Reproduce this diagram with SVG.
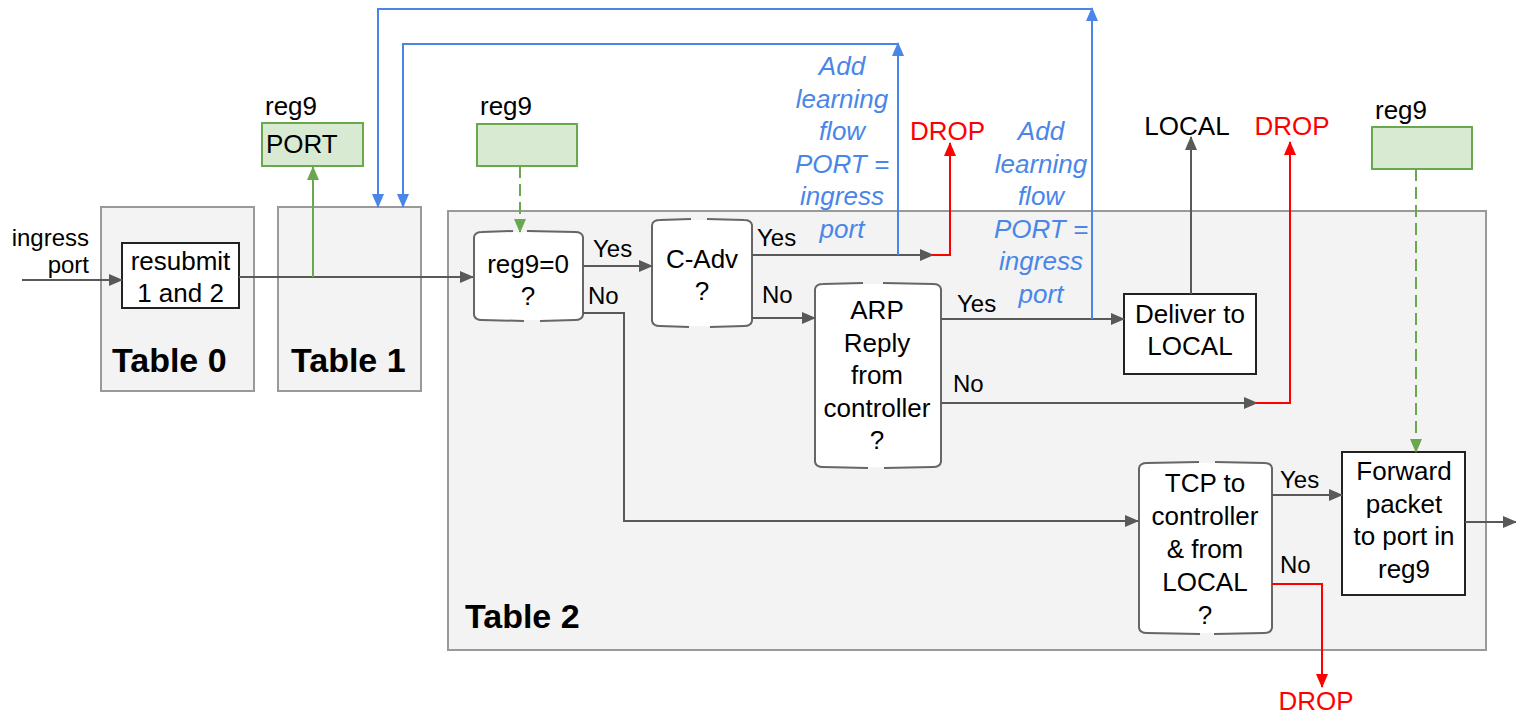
<svg xmlns="http://www.w3.org/2000/svg" width="1516" height="714" viewBox="0 0 1516 714">
<defs>
<style>
text{font-family:"Liberation Sans",Arial,sans-serif;fill:#000}
.t{font-size:26px}
.c{text-anchor:middle}
.lbl{font-size:24px}
.tbl{font-size:34px;font-weight:bold}
.blue{fill:#4a86e8;font-style:italic;font-size:26px;text-anchor:middle}
.red{fill:#ff0000;font-size:26px}
.table{fill:#f3f3f3;stroke:#999;stroke-width:2}
.box{fill:#fff;stroke:#222;stroke-width:2}
.reg{fill:#d9ead3;stroke:#6aa84f;stroke-width:2}
.dec{fill:#fff;stroke:none}
.decs{fill:none;stroke:#666;stroke-width:2}
.g{fill:none;stroke:#595959;stroke-width:2}
.gr{fill:none;stroke:#6aa84f;stroke-width:2}
.dash{stroke-dasharray:12 6}
.b{fill:none;stroke:#4a86e8;stroke-width:2}
.r{fill:none;stroke:#ff0000;stroke-width:2}
</style>
<marker id="ag" markerWidth="14" markerHeight="12" refX="13" refY="6" orient="auto" markerUnits="userSpaceOnUse"><path d="M0,0 L14,6 L0,12 Z" fill="#595959"/></marker>
<marker id="agr" markerWidth="14" markerHeight="12" refX="13" refY="6" orient="auto" markerUnits="userSpaceOnUse"><path d="M0,0 L14,6 L0,12 Z" fill="#6aa84f"/></marker>
<marker id="ab" markerWidth="14" markerHeight="12" refX="13" refY="6" orient="auto" markerUnits="userSpaceOnUse"><path d="M0,0 L14,6 L0,12 Z" fill="#4a86e8"/></marker>
<marker id="ar" markerWidth="14" markerHeight="12" refX="13" refY="6" orient="auto" markerUnits="userSpaceOnUse"><path d="M0,0 L14,6 L0,12 Z" fill="#ff0000"/></marker>
</defs>

<g id="table0"><rect class="table" x="101" y="207" width="153" height="184"/><text class="tbl" x="112" y="372">Table 0</text></g>
<g id="table1"><rect class="table" x="278" y="207" width="143" height="184"/><text class="tbl" x="291" y="372">Table 1</text></g>
<g id="table2"><rect class="table" x="448" y="211" width="1038" height="439"/><text class="tbl" x="465" y="628">Table 2</text></g>

<g id="ingress-label"><text class="lbl" x="89" y="246" text-anchor="end">ingress</text><text class="lbl" x="89" y="273" text-anchor="end">port</text></g>

<g id="resubmit"><rect class="box" x="122" y="243" width="117" height="65"/><text class="t c" x="180.5" y="270">resubmit</text><text class="t c" x="180.5" y="302">1 and 2</text></g>

<g id="reg9-port"><text class="t" x="265" y="115">reg9</text><rect class="reg" x="262" y="123" width="101" height="43"/><text class="t" x="266" y="153">PORT</text></g>
<g id="reg9-mid"><text class="t" x="480" y="115">reg9</text><rect class="reg" x="477" y="124" width="100" height="42"/></g>
<g id="reg9-right"><text class="t" x="1375" y="119">reg9</text><rect class="reg" x="1372" y="127" width="100" height="42"/></g>

<g id="dec-reg9">
<path class="dec" d="M474,237 Q475,232 482,232 L575,232 Q582,232 583,237 L583,315 Q582,320 575,320 L482,320 Q475,320 474,315 Z"/>
<path class="decs" d="M474,237 Q475,232 482,232 L513,231 M527,231 L575,232 Q582,232 583,237 L583,315 Q582,320 575,320 L540,321 M524,321 L482,320 Q475,320 474,315 L474,237"/>
<text class="t c" x="528" y="273">reg9=0</text><text class="t c" x="528" y="305">?</text>
</g>
<g id="dec-cadv">
<path class="dec" d="M652,225 Q653,220 660,220 L744,220 Q751,220 752,225 L752,321 Q751,326 744,326 L660,326 Q653,326 652,321 Z"/>
<path class="decs" d="M652,225 Q653,220 660,220 L691,219 M707,219 L744,220 Q751,220 752,225 L752,321 Q751,326 744,326 L710,327 M689,327 L660,326 Q653,326 652,321 L652,225"/>
<text class="t c" x="702" y="268">C-Adv</text><text class="t c" x="702" y="300">?</text>
</g>
<g id="dec-arp">
<path class="dec" d="M815,289 Q816,284 823,284 L933,284 Q940,284 941,289 L941,462 Q940,467 933,467 L823,467 Q816,467 815,462 Z"/>
<path class="decs" d="M815,289 Q816,284 823,284 L863,283 M883,283 L933,284 Q940,284 941,289 L941,462 Q940,467 933,467 L884,468 M868,468 L823,467 Q816,467 815,462 L815,289"/>
<text class="t c" x="877" y="319">ARP</text><text class="t c" x="877" y="351.5">Reply</text><text class="t c" x="877" y="384">from</text><text class="t c" x="877" y="416.5">controller</text><text class="t c" x="877" y="449">?</text>
</g>
<g id="dec-tcp">
<path class="dec" d="M1139,468 Q1140,463 1147,463 L1264,463 Q1271,463 1272,468 L1272,628 Q1271,633 1264,633 L1147,633 Q1140,633 1139,628 Z"/>
<path class="decs" d="M1139,468 Q1140,463 1147,463 L1199,462 M1215,462 L1264,463 Q1271,463 1272,468 L1272,628 Q1271,633 1264,633 L1214,634 M1200,634 L1147,633 Q1140,633 1139,628 L1139,468"/>
<text class="t c" x="1205" y="492">TCP to</text><text class="t c" x="1205" y="525">controller</text><text class="t c" x="1205" y="558">&amp; from</text><text class="t c" x="1205" y="591">LOCAL</text><text class="t c" x="1205" y="624">?</text>
</g>

<g id="deliver"><rect class="box" x="1124" y="294" width="132" height="80"/><text class="t c" x="1190" y="323">Deliver to</text><text class="t c" x="1190" y="355">LOCAL</text></g>
<g id="forward"><rect class="box" x="1342" y="452" width="123" height="143"/><text class="t c" x="1404" y="480">Forward</text><text class="t c" x="1404" y="512.5">packet</text><text class="t c" x="1404" y="545">to port in</text><text class="t c" x="1404" y="577.5">reg9</text></g>

<g id="blue-text-1"><text class="blue" x="842" y="75">Add</text><text class="blue" x="842" y="107.5">learning</text><text class="blue" x="842" y="140">flow</text><text class="blue" x="842" y="172.5">PORT =</text><text class="blue" x="842" y="205">ingress</text><text class="blue" x="842" y="237.5">port</text></g>
<g id="blue-text-2"><text class="blue" x="1041" y="140">Add</text><text class="blue" x="1041" y="172.5">learning</text><text class="blue" x="1041" y="205">flow</text><text class="blue" x="1041" y="237.5">PORT =</text><text class="blue" x="1041" y="270">ingress</text><text class="blue" x="1041" y="302.5">port</text></g>

<g id="drop-1"><text class="red c" x="947.5" y="140">DROP</text></g>
<g id="drop-2"><text class="red c" x="1292" y="135">DROP</text></g>
<g id="drop-3"><text class="red c" x="1316" y="710">DROP</text></g>
<g id="local-label"><text class="t c" x="1187" y="135">LOCAL</text></g>

<g id="edge-labels">
<text class="lbl" x="593" y="257">Yes</text>
<text class="lbl" x="588" y="304">No</text>
<text class="lbl" x="757" y="246">Yes</text>
<text class="lbl" x="762" y="303">No</text>
<text class="lbl" x="957" y="312">Yes</text>
<text class="lbl" x="953" y="392">No</text>
<text class="lbl" x="1280" y="488">Yes</text>
<text class="lbl" x="1280" y="573">No</text>
</g>

<g id="connectors">
<path class="g" d="M22,280 L122,280" marker-end="url(#ag)"/>
<path class="g" d="M239,277 L473,277" marker-end="url(#ag)"/>
<path class="gr" d="M313,277 L313,167" marker-end="url(#agr)"/>
<path class="gr dash" d="M520,166 L520,232" marker-end="url(#agr)"/>
<path class="gr dash" d="M1416,169 L1416,452" marker-end="url(#agr)"/>
<path class="g" d="M583,266 L652,266" marker-end="url(#ag)"/>
<path class="g" d="M583,313 L624,313 L624,521 L1138,521" marker-end="url(#ag)"/>
<path class="g" d="M752,255 L933,255" marker-end="url(#ag)"/>
<path class="r" d="M932,255 L950,255 L950,143" marker-end="url(#ar)"/>
<path class="b" d="M898,255 L898,43" marker-end="url(#ab)"/>
<path class="b" d="M898,44 L403,44 L403,207" marker-end="url(#ab)"/>
<path class="g" d="M752,318 L815,318" marker-end="url(#ag)"/>
<path class="g" d="M941,319 L1124,319" marker-end="url(#ag)"/>
<path class="b" d="M1092,319 L1092,8" marker-end="url(#ab)"/>
<path class="b" d="M1092,9 L378,9 L378,207" marker-end="url(#ab)"/>
<path class="g" d="M941,403 L1257,403" marker-end="url(#ag)"/>
<path class="r" d="M1256,403 L1290,403 L1290,142" marker-end="url(#ar)"/>
<path class="g" d="M1191,294 L1191,137" marker-end="url(#ag)"/>
<path class="g" d="M1272,495 L1342,495" marker-end="url(#ag)"/>
<path class="r" d="M1272,584 L1322,584 L1322,687" marker-end="url(#ar)"/>
<path class="g" d="M1465,522 L1516,522" marker-end="url(#ag)"/>
</g>
</svg>
